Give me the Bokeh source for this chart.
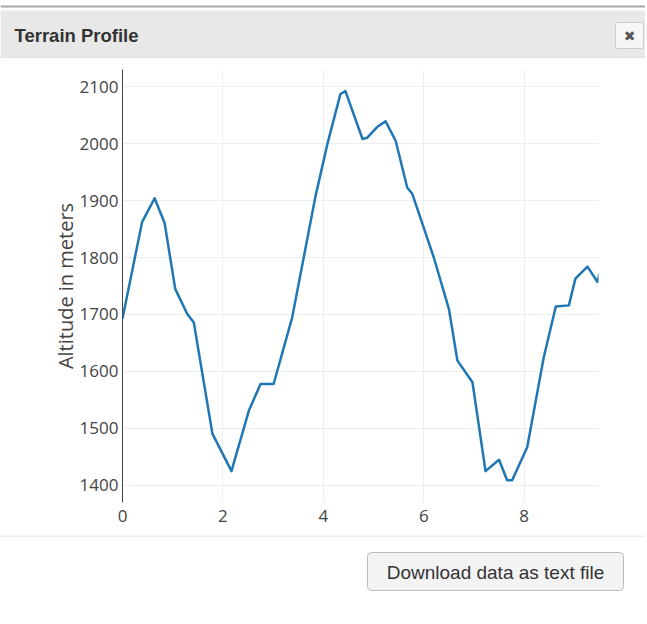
from bokeh.plotting import figure
from bokeh.models import Range1d, FixedTicker, BoxAnnotation, Label
from bokeh.embed import file_html
from bokeh.resources import INLINE

# ---- data (distance vs altitude) ----
distance = [0.00, 0.39, 0.64, 0.84, 1.05, 1.29, 1.42, 1.79, 2.17, 2.52, 2.75, 3.01,
            3.38, 3.84, 4.08, 4.34, 4.44, 4.78, 4.87, 5.07, 5.24, 5.44, 5.67, 5.77,
            6.20, 6.50, 6.67, 6.97, 7.23, 7.50, 7.66, 7.76, 8.06, 8.39, 8.63, 8.89,
            9.02, 9.26, 9.46, 9.50]
altitude = [1693, 1862, 1904, 1860, 1745, 1701, 1686, 1491, 1425, 1532, 1578, 1578,
            1695, 1906, 1999, 2087, 2092, 2008, 2010, 2029, 2039, 2005, 1923, 1912,
            1800, 1710, 1619, 1581, 1425, 1445, 1409, 1409, 1467, 1625, 1714, 1716,
            1763, 1784, 1757, 1772]
x_ticks = [0, 2, 4, 6, 8]
y_ticks = [1400, 1500, 1600, 1700, 1800, 1900, 2000, 2100]

title_text = "Terrain Profile"
y_label = "Altitude in meters"
button_text = "Download data as text file"

W = 645
FONT = "Open Sans"


def panel(height):
    f = figure(width=W, height=height, x_range=Range1d(0, W), y_range=Range1d(height, 0),
               x_axis_type=None, y_axis_type=None, output_backend="svg",
               toolbar_location=None, min_border=0, outline_line_color=None)
    return f


def box(f, l, t, r, b, **kw):
    kw.setdefault("fill_alpha", 1)
    kw.setdefault("line_color", None)
    f.add_layout(BoxAnnotation(left=l, right=r, top=t, bottom=b, **kw))


# ---- header (canvas y 0..58) ----
header = panel(58)
box(header, 0, 5, W, 7, fill_color="#a8a8a8")
box(header, 0, 10, W, 58, fill_color="#e8e8e8")
box(header, 0, 57, W, 58, fill_color="#d8d8d8")
header.add_layout(Label(x=14, y=34.5, text=title_text, text_font="Liberation Sans",
                        text_font_style="bold", text_font_size="18.5px",
                        text_color="#333333", text_baseline="middle"))
box(header, 615, 22, 643, 48, fill_color="#f6f6f6", line_color="#cccccc", line_alpha=1,
    line_width=1, border_radius=2)
header.add_layout(Label(x=629, y=35.5, text="\u2716", text_font="DejaVu Sans",
                        text_font_size="14px", text_color="#555555",
                        text_align="center", text_baseline="middle"))

# ---- main plot (canvas y 58..535) ----
p = figure(width=W, height=477, x_range=Range1d(0, 9.48), y_range=Range1d(1370, 2130),
           output_backend="svg", toolbar_location=None,
           min_border_left=122, min_border_right=W - 598, min_border_top=11,
           min_border_bottom=33, outline_line_color=None)
p.line(distance, altitude, line_color="#1f77b4", line_width=2.5, line_join="round")

p.xaxis.ticker = FixedTicker(ticks=x_ticks)
p.yaxis.ticker = FixedTicker(ticks=y_ticks)
p.xgrid.ticker = FixedTicker(ticks=x_ticks)
p.ygrid.ticker = FixedTicker(ticks=y_ticks)
p.xgrid.grid_line_color = "#eeeeee"
p.ygrid.grid_line_color = "#eeeeee"

for ax in (p.xaxis, p.yaxis):
    ax.major_tick_line_color = None
    ax.minor_tick_line_color = None
    ax.major_tick_out = 0
    ax.major_tick_in = 0
    ax.major_label_text_font = FONT
    ax.major_label_text_font_size = "17px"
    ax.major_label_text_color = "#444444"

p.xaxis.axis_line_color = None
p.xaxis.major_label_standoff = 7
p.yaxis.axis_line_color = "#444444"
p.yaxis.axis_line_width = 1
p.yaxis.major_label_standoff = 4
p.yaxis.axis_label = y_label
p.yaxis.axis_label_text_font = FONT
p.yaxis.axis_label_text_font_size = "20px"
p.yaxis.axis_label_text_font_style = "normal"
p.yaxis.axis_label_text_color = "#444444"
p.yaxis.axis_label_standoff = -2

# ---- footer (canvas y 535..620) ----
footer = panel(85)
box(footer, 0, 0, W, 1, fill_color="#dddddd")
box(footer, 367, 17, 623, 55, fill_color="#f3f3f3", line_color="#bbbbbb", line_alpha=1,
    line_width=1, border_radius=4)
footer.add_layout(Label(x=495, y=36.5, text=button_text, text_font="Liberation Sans",
                        text_font_size="19px", text_color="#333333",
                        text_align="center", text_baseline="middle"))

open("out.html", "w").write(file_html([header, p, footer], INLINE))
